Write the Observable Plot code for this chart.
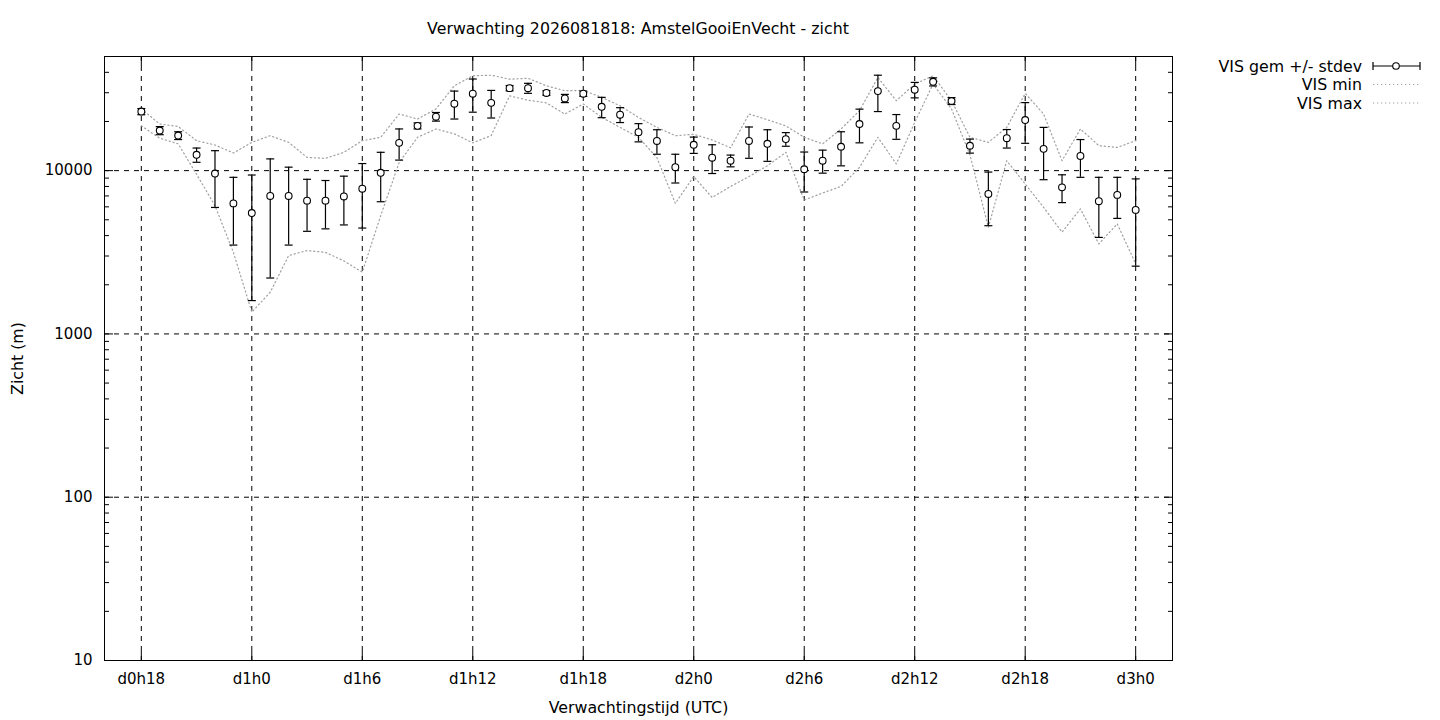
<!DOCTYPE html>
<html>
<head>
<meta charset="utf-8">
<script src="https://cdn.jsdelivr.net/npm/d3@7"></script>
<script src="https://cdn.jsdelivr.net/npm/@observablehq/plot@0.6"></script>
<style>
  html, body { margin: 0; padding: 0; background: #fff; }
  #wrap { position: relative; width: 1440px; height: 720px; font-family: "DejaVu Sans", sans-serif; }
  #wrap svg.plot { position: absolute; left: 0; top: 0; }
  #title { position: absolute; left: 104px; width: 1068px; top: 19px; text-align: center; font-size: 15.8px; color: #000; }
  #legend { position: absolute; left: 1180px; top: 56px; }
</style>
</head>
<body>
<div id="wrap">
  <div id="title">Verwachting 2026081818: AmstelGooiEnVecht - zicht</div>
  <svg id="legend" width="260" height="60"></svg>
</div>
<script>
// forecast hours (hours after d0h0)
const hours = [18,19,20,21,22,23,24,25,26,27,28,29,30,31,32,33,34,35,36,37,38,39,40,41,42,43,44,45,46,47,48,49,50,51,52,53,54,55,56,57,58,59,60,61,62,63,64,65,66,67,68,69,70,71,72];
// mean visibility (m)
const visMean = [23000,17600,16400,12500,9600,6300,5500,7000,7000,6550,6550,6950,7750,9700,14800,18800,21400,25700,29600,26000,32000,32000,29900,27700,29600,24600,22000,17200,15200,10500,14400,12000,11500,15200,14600,15600,10200,11500,14000,19300,30700,18800,31300,35000,26700,14200,7200,15800,20400,13600,7900,12300,6500,7100,5750];
// standard deviation (m)
const visStdev = [1000,1000,900,1250,3650,2800,3900,4800,3500,2300,2150,2300,3300,3250,3200,800,1300,5000,6800,5000,1200,2250,1000,1600,1100,3500,2300,2200,2600,2100,1650,2400,950,3300,3200,1500,2800,1850,3300,4500,7700,3250,3400,2000,1300,1400,2600,2050,5700,4800,1530,3200,2600,2000,3150];
// minimum visibility (m)
const visMin = [18800,15800,14600,9500,6100,3160,1360,1800,3020,3240,3160,2800,2390,5300,11200,16000,18000,16800,14800,16400,28700,27000,26000,22200,25600,21200,18400,16000,12000,6300,9200,6850,8000,9200,10700,12950,6600,7300,8000,10470,16000,11000,19750,33900,23850,12500,4500,11500,8290,5960,4200,5830,3560,4720,2690];
// maximum visibility (m)
const visMax = [23850,19300,18640,15260,14360,12830,14900,16370,14900,12060,11890,12950,15260,16000,22220,20700,23850,33100,38100,38400,36300,36800,33100,30850,31000,28100,24960,21170,18400,16370,16700,15420,13800,22220,20500,18800,16000,14580,18000,23280,37200,26800,33900,38100,26800,16000,14900,18400,29700,22220,11510,18000,14220,13880,15260];

const xTicks = [18,24,30,36,42,48,54,60,66,72];
const xTickLabels = ["d0h18","d1h0","d1h6","d1h12","d1h18","d2h0","d2h6","d2h12","d2h18","d3h0"];
const yTicks = [10,100,1000,10000];
const xDomain = [16,74];
const yDomain = [10,50000];
const xLabel = "Verwachtingstijd (UTC)";
const yLabel = "Zicht (m)";

const data = hours.map((h, i) => ({h, mean: visMean[i], sd: visStdev[i], lo: visMean[i] - visStdev[i], hi: visMean[i] + visStdev[i], min: visMin[i], max: visMax[i]}));

// minor log ticks
const yMinor = [];
for (const dec of [10,100,1000,10000]) for (let k = 2; k <= 9; k++) if (dec * k <= 50000) yMinor.push(dec * k);

const capSymbol = {
  draw(context, size) {
    const w = Math.sqrt(size / Math.PI);
    context.moveTo(-w, 0);
    context.lineTo(w, 0);
  }
};

const font = "DejaVu Sans";
const dotted = {stroke: "#a0a0a0", strokeWidth: 1.2, strokeDasharray: "1.2,2.8"};

const chart = Plot.plot({
  width: 1440,
  height: 720,
  marginLeft: 104,
  marginRight: 268,
  marginTop: 56,
  marginBottom: 60,
  style: {fontFamily: font, fontSize: "15px", color: "#000", background: "transparent"},
  x: {domain: xDomain},
  y: {type: "log", domain: yDomain},
  marks: [
    Plot.gridX(xTicks, {stroke: "#000", strokeOpacity: 1, strokeDasharray: "5,5"}),
    Plot.gridY(yTicks, {stroke: "#000", strokeOpacity: 1, strokeDasharray: "5,5"}),
    // tick labels
    Plot.axisY(yTicks, {anchor: "left", tickSize: 0, tickPadding: 12, tickFormat: d => String(d), fontSize: 15, label: null}),
    Plot.axisX(xTicks, {anchor: "bottom", tickSize: 0, tickPadding: 13, tickFormat: d => xTickLabels[xTicks.indexOf(d)], fontSize: 15, label: null}),
    // axis titles
    Plot.text([yLabel], {frameAnchor: "left", rotate: -90, dx: -93, lineAnchor: "top", textAnchor: "middle", fontSize: 15.8, text: d => d}),
    Plot.text([xLabel], {frameAnchor: "bottom", dy: 52, lineAnchor: "bottom", textAnchor: "middle", fontSize: 15.8, text: d => d}),
    // inward ticks
    Plot.axisY(yMinor, {anchor: "left", tickSize: 5, dx: 5, text: null, label: null}),
    Plot.axisY(yMinor, {anchor: "right", tickSize: 5, dx: -5, text: null, label: null}),
    Plot.axisY(yTicks, {anchor: "left", tickSize: 9, dx: 9, text: null, label: null}),
    Plot.axisY(yTicks, {anchor: "right", tickSize: 9, dx: -9, text: null, label: null}),
    Plot.axisX(xTicks, {anchor: "bottom", tickSize: 9, dy: -9, text: null, label: null}),
    Plot.axisX(xTicks, {anchor: "top", tickSize: 9, dy: 9, text: null, label: null}),
    // min/max
    Plot.line(data, {x: "h", y: "min", ...dotted}),
    Plot.line(data, {x: "h", y: "max", ...dotted}),
    // error bars
    Plot.ruleX(data, {x: "h", y1: "lo", y2: "hi", stroke: "#000", strokeWidth: 1.2}),
    Plot.dot(data, {x: "h", y: "lo", symbol: capSymbol, r: 4, stroke: "#000", strokeWidth: 1.2}),
    Plot.dot(data, {x: "h", y: "hi", symbol: capSymbol, r: 4, stroke: "#000", strokeWidth: 1.2}),
    Plot.dot(data, {x: "h", y: "mean", r: 3.4, fill: "#fff", stroke: "#000", strokeWidth: 1.1}),
    Plot.frame({stroke: "#000", strokeWidth: 1})
  ]
});
chart.classList.add("plot");
document.getElementById("wrap").prepend(chart);

// legend
const legendItems = ["VIS gem +/- stdev", "VIS min", "VIS max"];
const lg = d3.select("#legend");
legendItems.forEach((t, i) => {
  const y = 10 + i * 18.5;
  lg.append("text").attr("x", 182).attr("y", y).attr("dy", "0.35em").attr("text-anchor", "end")
    .attr("font-family", font).attr("font-size", 15.8).attr("fill", "#000").text(t);
  if (i === 0) {
    lg.append("line").attr("x1", 193).attr("x2", 240).attr("y1", y).attr("y2", y).attr("stroke", "#000").attr("stroke-width", 1.2);
    lg.append("line").attr("x1", 193).attr("x2", 193).attr("y1", y - 4).attr("y2", y + 4).attr("stroke", "#000").attr("stroke-width", 1.2);
    lg.append("line").attr("x1", 240).attr("x2", 240).attr("y1", y - 4).attr("y2", y + 4).attr("stroke", "#000").attr("stroke-width", 1.2);
    lg.append("circle").attr("cx", 216).attr("cy", y).attr("r", 3.3).attr("fill", "#fff").attr("stroke", "#000").attr("stroke-width", 1.1);
  } else {
    lg.append("line").attr("x1", 193).attr("x2", 240).attr("y1", y).attr("y2", y)
      .attr("stroke", dotted.stroke).attr("stroke-width", dotted.strokeWidth).attr("stroke-dasharray", dotted.strokeDasharray);
  }
});
</script>
</body>
</html>
